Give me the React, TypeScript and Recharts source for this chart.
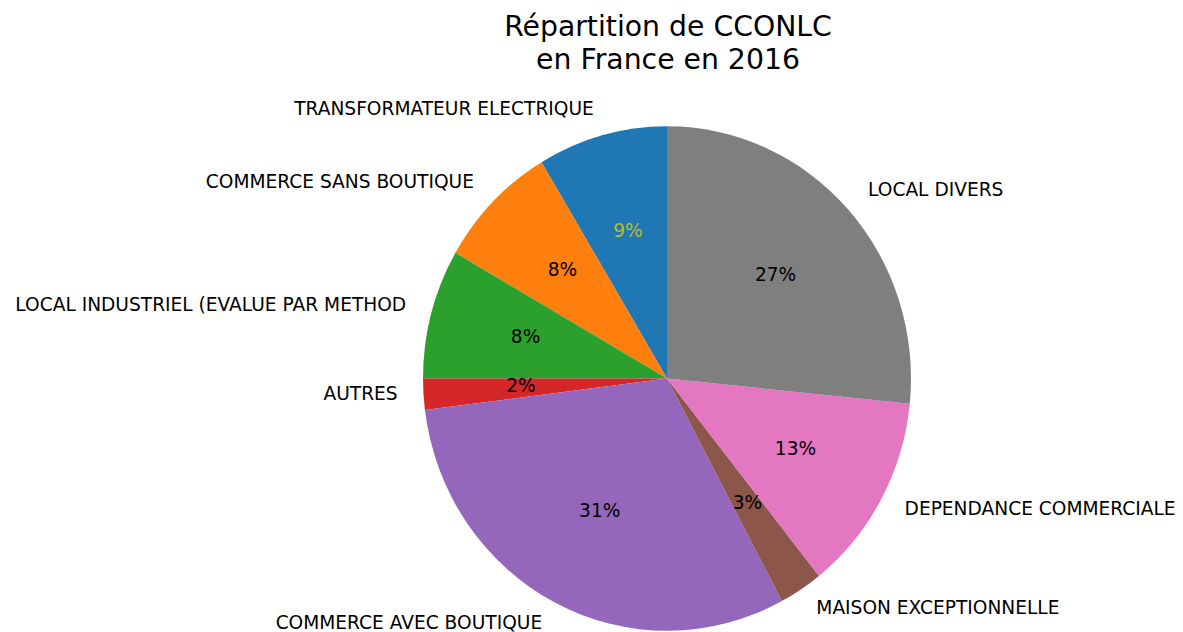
import { PieChart, Pie, Cell } from "recharts"

const categories = [
  "TRANSFORMATEUR ELECTRIQUE",
  "COMMERCE SANS BOUTIQUE",
  "LOCAL INDUSTRIEL (EVALUE PAR METHOD",
  "AUTRES",
  "COMMERCE AVEC BOUTIQUE",
  "MAISON EXCEPTIONNELLE",
  "DEPENDANCE COMMERCIALE",
  "LOCAL DIVERS",
]

const shares = [8.6, 8.1, 8.3, 2.0, 30.8, 2.9, 12.7, 26.6]

const COLORS = ["#1f77b4", "#ff7f0e", "#2ca02c", "#d62728", "#9467bd", "#8c564b", "#e377c2", "#7f7f7f"]

const data = categories.map((name, i) => ({ name, value: shares[i] }))

const RAD = Math.PI / 180
const SQUASH = 1.034 // matplotlib axes were not equal, pie is slightly taller than wide
const FONT = "DejaVu Sans, sans-serif"
const LIFT = 2.5 // matplotlib centres the text box incl. descent

function EllipseSector(props: any) {
  const { cx, cy, startAngle, endAngle, outerRadius, fill } = props
  const rx = outerRadius
  const ry = outerRadius * SQUASH
  const pt = (a: number) => [cx + rx * Math.cos(a * RAD), cy - ry * Math.sin(a * RAD)]
  const [x1, y1] = pt(startAngle)
  const [x2, y2] = pt(endAngle)
  const delta = endAngle - startAngle
  const large = Math.abs(delta) > 180 ? 1 : 0
  const sweep = delta > 0 ? 0 : 1
  const d = `M${cx},${cy} L${x1},${y1} A${rx},${ry} 0 ${large} ${sweep} ${x2},${y2} Z`
  return <path d={d} fill={fill} stroke="none" />
}

function renderLabel(props: any) {
  const { cx, cy, midAngle, outerRadius, percent, name, index } = props
  const c = Math.cos(midAngle * RAD)
  const s = Math.sin(midAngle * RAD)
  const lx = cx + 1.1 * outerRadius * c
  const ly = cy - 1.1 * outerRadius * SQUASH * s
  const px = cx + 0.6 * outerRadius * c
  const py = cy - 0.6 * outerRadius * SQUASH * s
  return (
    <g key={`lbl-${index}`}>
      <text
        x={lx + (c >= 0 ? 2 : -1.5)}
        y={ly - LIFT}
        textAnchor={c >= 0 ? "start" : "end"}
        dominantBaseline="central"
        fontSize={18.6}
        fontFamily={FONT}
        fill="#000"
      >
        {name}
      </text>
      <text
        x={px}
        y={py - LIFT}
        textAnchor="middle"
        dominantBaseline="central"
        fontSize={18.6}
        fontFamily={FONT}
        fill={index === 0 ? "#bcbd22" : "#000"}
      >
        {`${Math.round(percent * 100)}%`}
      </text>
    </g>
  )
}

export default function App() {
  return (
    <div style={{ position: "relative", width: 1183, height: 632, marginLeft: -8, marginTop: -8 }}>
      <div
        style={{
          position: "absolute",
          left: 668,
          top: 10,
          transform: "translateX(-50%)",
          whiteSpace: "nowrap",
          textAlign: "center",
          fontFamily: FONT,
          fontSize: 28.3,
          lineHeight: "33px",
          color: "#000",
        }}
      >
        Répartition de CCONLC
        <br />
        en France en 2016
      </div>
      <PieChart width={1183} height={632} margin={{ top: 0, right: 0, bottom: 0, left: 0 }}>
        <Pie
          data={data}
          dataKey="value"
          nameKey="name"
          cx={667}
          cy={378.5}
          outerRadius={244}
          startAngle={90}
          endAngle={450}
          stroke="none"
          label={renderLabel}
          labelLine={false}
          shape={EllipseSector}
          isAnimationActive={false}
        >
          {data.map((entry, index) => (
            <Cell key={`cell-${index}`} fill={COLORS[index]} />
          ))}
        </Pie>
      </PieChart>
    </div>
  )
}
